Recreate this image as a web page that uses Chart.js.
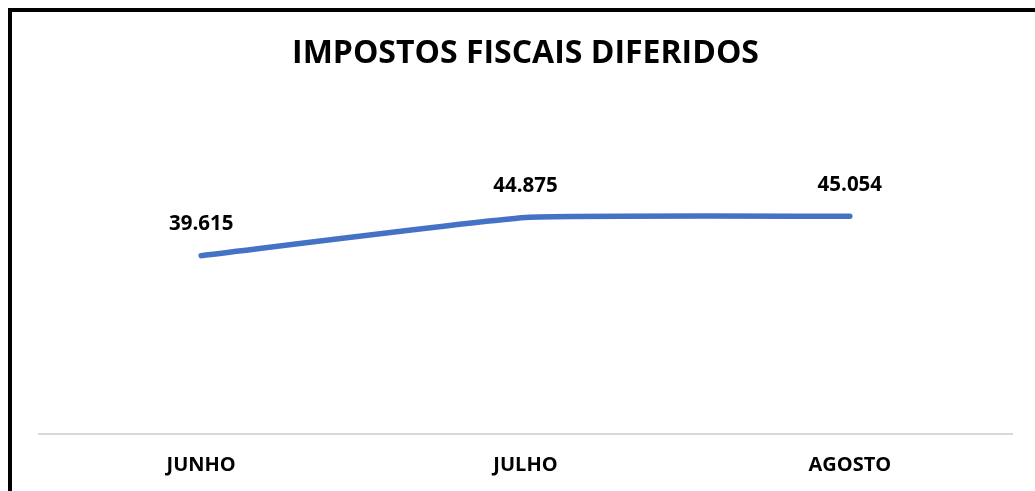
<!DOCTYPE html>
<html>
<head>
<meta charset="utf-8">
<script src="https://cdn.jsdelivr.net/npm/chart.js@4/dist/chart.umd.min.js"></script>
<style>
  html, body { margin: 0; padding: 0; background: #fff; overflow: hidden; }
  #frame { position: absolute; left: 8px; top: 8px; width: 1100px; height: 600px; border: 4px solid #000; box-sizing: border-box; }
  #wrap { position: absolute; left: 0; top: 0; width: 1035px; height: 491px; }
</style>
</head>
<body>
<div id="frame"></div>
<div id="wrap"><canvas id="c" width="1035" height="491"></canvas></div>
<script>
const categories = ['JUNHO', 'JULHO', 'AGOSTO'];
const values = [39615, 44875, 45054];
const chartTitle = 'IMPOSTOS FISCAIS DIFERIDOS';

function fmt(v) {
  return String(v).replace(/\B(?=(\d{3})+(?!\d))/g, '.');
}

const dataLabels = {
  id: 'dataLabels',
  afterDatasetsDraw(chart) {
    const ctx = chart.ctx;
    const meta = chart.getDatasetMeta(0);
    ctx.save();
    ctx.font = 'bold 20.5px "Open Sans"';
    ctx.fillStyle = '#000';
    ctx.textAlign = 'center';
    ctx.textBaseline = 'middle';
    meta.data.forEach((pt, i) => {
      ctx.fillText(fmt(values[i]), pt.x, pt.y - 31);
    });
    ctx.restore();
  }
};

new Chart(document.getElementById('c'), {
  type: 'line',
  data: {
    labels: categories,
    datasets: [{
      data: values,
      borderColor: '#4472C4',
      borderWidth: 5.5,
      borderCapStyle: 'round',
      borderJoinStyle: 'round',
      tension: 0.12,
      pointRadius: 0,
      pointHoverRadius: 0,
      fill: false,
      clip: false
    }]
  },
  options: {
    responsive: false,
    animation: false,
    events: [],
    layout: { padding: { left: 39, right: 23, top: 0, bottom: -5 } },
    plugins: {
      legend: { display: false },
      tooltip: { enabled: false },
      title: {
        display: true,
        text: chartTitle,
        color: '#000',
        font: { family: '"Open Sans"', size: 32, weight: 'bold', lineHeight: 1.2 },
        padding: { top: 35, bottom: 107 }
      }
    },
    scales: {
      x: {
        offset: true,
        grid: { display: false, drawTicks: false },
        border: { display: true, color: '#d9d9d9', width: 2 },
        ticks: {
          color: '#000',
          padding: 19,
          font: { family: '"Open Sans"', size: 20, weight: 'bold', lineHeight: 1.2 },
          maxRotation: 0
        }
      },
      y: {
        display: false,
        min: 15000,
        max: 50000
      }
    }
  },
  plugins: [dataLabels]
});
</script>
</body>
</html>
